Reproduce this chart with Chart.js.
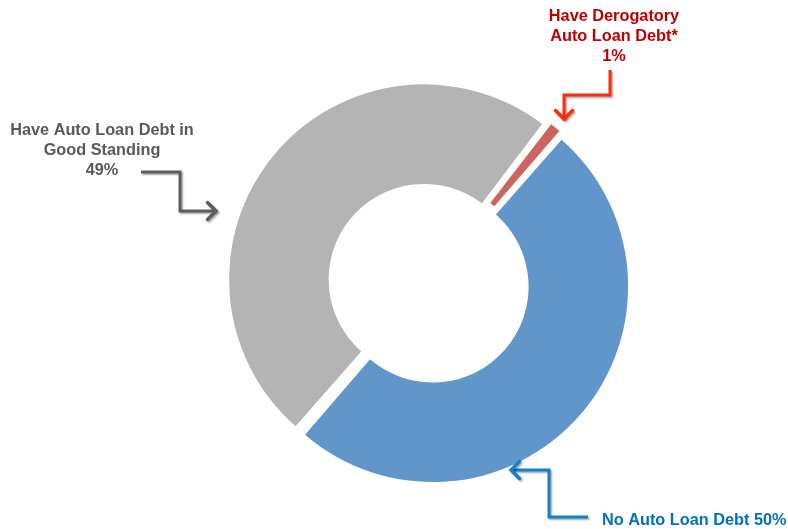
<!DOCTYPE html>
<html>
<head>
<meta charset="utf-8">
<script src="https://cdn.jsdelivr.net/npm/chart.js@4/dist/chart.umd.min.js"></script>
<style>
  html, body { margin: 0; padding: 0; background: #fff; }
  #wrap { width: 788px; height: 529px; position: relative; }
</style>
</head>
<body>
<div id="wrap"><canvas id="chart_auto"></canvas></div>
<script>
// auto loan debt status, share of consumers (%)
const categories = ['No Auto Loan Debt', 'Have Auto Loan Debt in Good Standing', 'Have Derogatory Auto Loan Debt*'];
const shares = [50, 49, 1];

const sliceColors = ['#6096C9', '#B4B4B4', '#CD655F'];

// callout text + elbow arrow for each slice
const callouts = [
  { lines: [categories[0] + ' ' + shares[0] + '%'], color: '#0070C0', arrow: '#1580C8',
    align: 'left', x: 602, y: 525, path: [[588, 517], [549, 517], [549, 470], [511, 470]] },
  { lines: ['Have Auto Loan Debt in', 'Good Standing', shares[1] + '%'], color: '#595959', arrow: '#5E5E5E',
    align: 'center', x: 102, y: 135, path: [[141, 172], [180, 172], [180, 211], [216, 211]] },
  { lines: ['Have Derogatory', 'Auto Loan Debt*', shares[2] + '%'], color: '#C00000', arrow: '#FF2D0A',
    align: 'center', x: 614, y: 21, path: [[610, 70], [610, 95], [564, 95], [564, 119]] }
];

function drawArrow(ctx, pts, color) {
  ctx.save();
  ctx.strokeStyle = color;
  ctx.lineWidth = 3;
  ctx.lineJoin = 'miter';
  ctx.lineCap = 'butt';
  ctx.shadowColor = 'rgba(0,0,0,0.35)';
  ctx.shadowOffsetX = 1.5;
  ctx.shadowOffsetY = 1.5;
  ctx.shadowBlur = 2;
  ctx.beginPath();
  ctx.moveTo(pts[0][0], pts[0][1]);
  for (let i = 1; i < pts.length; i++) ctx.lineTo(pts[i][0], pts[i][1]);
  ctx.stroke();
  // open arrow head
  const a = pts[pts.length - 2], b = pts[pts.length - 1];
  const ang = Math.atan2(b[1] - a[1], b[0] - a[0]);
  const len = 12;
  ctx.lineWidth = 3.5;
  ctx.lineCap = 'round';
  ctx.beginPath();
  ctx.moveTo(b[0] - len * Math.cos(ang - Math.PI / 4), b[1] - len * Math.sin(ang - Math.PI / 4));
  ctx.lineTo(b[0], b[1]);
  ctx.lineTo(b[0] - len * Math.cos(ang + Math.PI / 4), b[1] - len * Math.sin(ang + Math.PI / 4));
  ctx.stroke();
  ctx.restore();
}

const calloutPlugin = {
  id: 'callouts',
  afterDraw(chart) {
    const ctx = chart.ctx;
    callouts.forEach(c => {
      drawArrow(ctx, c.path, c.arrow);
      ctx.save();
      ctx.fillStyle = c.color;
      ctx.font = 'bold 16.3px "Liberation Sans", Arial, sans-serif';
      ctx.textAlign = c.align;
      ctx.textBaseline = 'alphabetic';
      c.lines.forEach((t, i) => ctx.fillText(t, c.x, c.y + i * 20));
      ctx.restore();
    });
  }
};

const ctx_auto = document.getElementById('chart_auto').getContext('2d');
const autoChart = new Chart(ctx_auto, {
  type: 'doughnut',
  data: {
    labels: categories,
    datasets: [{
      data: shares,
      backgroundColor: sliceColors,
      borderWidth: 0,
      offset: 22,
      hoverOffset: 0
    }]
  },
  options: {
    responsive: true,
    maintainAspectRatio: false,
    animation: false,
    rotation: 41,
    radius: 190,
    cutout: '47.6%',
    layout: { padding: { left: 69, top: 37, right: 0, bottom: 0 } },
    plugins: {
      legend: { display: false },
      tooltip: { enabled: false }
    }
  },
  plugins: [calloutPlugin]
});
</script>
</body>
</html>
